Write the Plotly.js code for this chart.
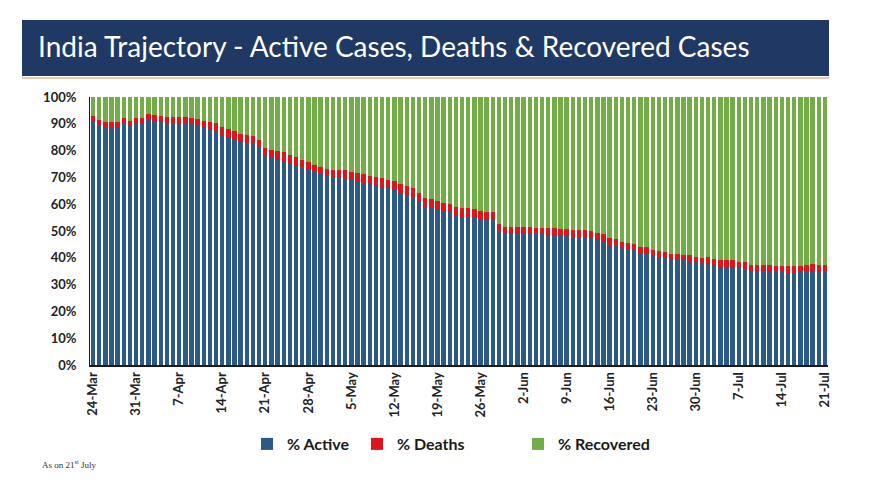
<!DOCTYPE html>
<html>
<head>
<meta charset="utf-8">
<script src="https://cdn.plot.ly/plotly-3.0.1.min.js"></script>
<style>html,body{margin:0;padding:0;background:#fff;}#chart{width:878px;height:489px;}</style>
</head>
<body>
<div id="chart"></div>
<script>
// Month spans for the daily categories (24-Mar .. 21-Jul)
var monthSpans = [["Mar", 24, 31], ["Apr", 1, 30], ["May", 1, 31], ["Jun", 1, 30], ["Jul", 1, 21]];

// Tick labels shown on the x axis (weekly)
var tickLabels = ["24-Mar","31-Mar","7-Apr","14-Apr","21-Apr","28-Apr","5-May","12-May","19-May","26-May",
                  "2-Jun","9-Jun","16-Jun","23-Jun","30-Jun","7-Jul","14-Jul","21-Jul"];

// % Active
var pctActive = [
91.0,89.5,88.7,88.7,88.6,90.2,89.2,90.2,90.3,91.4,
91.0,90.5,90.4,90.2,90.2,90.0,89.8,89.3,88.6,88.0,
87.1,85.8,85.0,84.4,83.3,82.8,82.5,81.0,78.0,77.5,
76.8,76.3,75.5,74.8,73.8,73.2,72.0,71.2,70.5,70.0,
69.6,69.3,68.9,68.2,67.9,67.4,66.9,66.6,65.9,65.5,
64.2,63.5,62.8,61.0,59.0,58.5,58.0,57.4,57.0,55.7,
55.3,55.2,55.0,54.5,54.4,54.2,49.5,48.9,48.8,48.8,
48.8,48.8,48.8,48.7,48.6,48.5,48.3,48.0,47.8,47.8,
47.9,47.6,46.6,46.4,44.8,44.3,43.6,43.3,43.0,41.8,
41.6,40.6,40.4,40.2,39.3,39.2,39.1,38.9,38.3,38.1,
37.9,36.9,36.7,36.7,36.5,36.1,35.9,35.0,34.8,34.8,
34.7,34.6,34.6,34.5,34.5,34.6,35.0,35.1,35.0,34.8];

// % Deaths
var pctDeaths = [
1.9,2.0,2.1,2.1,2.0,1.8,2.0,1.8,1.9,2.1,
2.2,2.3,2.2,2.3,2.3,2.4,2.5,2.5,2.6,2.8,
3.3,2.9,3.0,3.0,3.0,3.0,3.0,3.0,2.8,2.8,
3.0,3.1,2.7,2.8,2.6,2.6,2.8,2.8,2.7,2.8,
3.3,3.5,3.3,3.3,3.3,3.2,3.2,3.2,3.1,3.1,
3.2,3.2,3.2,3.2,3.3,3.3,3.2,2.9,3.0,3.1,
3.2,3.2,3.2,2.8,2.8,2.8,3.0,2.7,2.6,2.6,
2.6,2.6,2.5,2.6,2.6,2.5,2.5,2.6,2.6,2.5,
2.5,2.5,2.5,2.5,2.5,2.6,2.2,2.1,2.1,2.4,
2.4,2.2,2.1,2.1,2.1,2.1,2.1,2.1,2.0,2.0,
2.4,2.5,2.5,2.5,2.5,2.4,2.4,2.5,2.5,2.5,
2.5,2.4,2.3,2.4,2.4,2.4,2.5,2.5,2.5,2.5];

// % Recovered
var pctRecovered = [
7.1,8.5,9.2,9.2,9.4,8.0,8.8,8.0,7.8,6.5,
6.8,7.2,7.4,7.5,7.5,7.6,7.7,8.2,8.8,9.2,
9.6,11.3,12.0,12.6,13.7,14.2,14.5,16.0,19.2,19.7,
20.2,20.6,21.8,22.4,23.6,24.2,25.2,26.0,26.8,27.2,
27.1,27.2,27.8,28.5,28.8,29.4,29.9,30.2,31.0,31.4,
32.6,33.3,34.0,35.8,37.7,38.2,38.8,39.7,40.0,41.2,
41.5,41.6,41.8,42.7,42.8,43.0,47.5,48.4,48.6,48.6,
48.6,48.6,48.7,48.7,48.8,49.0,49.2,49.4,49.6,49.7,
49.6,49.9,50.9,51.1,52.7,53.1,54.2,54.6,54.9,55.8,
56.0,57.2,57.5,57.7,58.6,58.7,58.8,59.0,59.7,59.9,
59.7,60.6,60.8,60.8,61.0,61.5,61.7,62.5,62.7,62.7,
62.8,63.0,63.1,63.1,63.1,63.0,62.5,62.4,62.5,62.7];

var days = [];
monthSpans.forEach(function (m) {
  for (var d = m[1]; d <= m[2]; d++) days.push(d + "-" + m[0]);
});

var FONT = "Lato, 'Open Sans', sans-serif";

var traces = [
  {type: "bar", name: "% Active", x: days, y: pctActive, marker: {color: "#2B5A86"}, legend: "legend"},
  {type: "bar", name: "% Deaths", x: days, y: pctDeaths, marker: {color: "#E0141B"}, legend: "legend2"},
  {type: "bar", name: "% Recovered", x: days, y: pctRecovered, marker: {color: "#72AD47"}, legend: "legend3"}
];

function px2x(p) { return (p - 90) / 738; }
function px2y(p) { return (365 - p) / 268; }

var legendFont = {family: FONT, size: 16, color: "#1a1a1a", weight: "bold"};
function legendAt(p) {
  return {orientation: "h", x: px2x(p), xanchor: "left", y: px2y(444), yanchor: "middle",
          font: legendFont, itemwidth: 30, bgcolor: "rgba(0,0,0,0)", borderwidth: 0};
}

var layout = {
  width: 878, height: 489,
  margin: {l: 90, r: 50, t: 97, b: 124},
  paper_bgcolor: "#ffffff", plot_bgcolor: "#ffffff",
  barmode: "stack", bargap: 0.28,
  showlegend: true,
  title: {
    text: "India Trajectory - Active Cases, Deaths & Recovered Cases",
    x: 38 / 878, xanchor: "left", xref: "container",
    y: 1 - 47 / 489, yanchor: "middle", yref: "container",
    font: {family: FONT, size: 28, color: "#ffffff"}
  },
  xaxis: {
    type: "category",
    tickmode: "array", tickvals: tickLabels, ticktext: tickLabels,
    tickangle: -90, ticks: "",
    showline: true, linecolor: "#1a1a1a", linewidth: 2,
    showgrid: false, zeroline: false,
    tickfont: {family: FONT, size: 13, color: "#222222", weight: "bold"},
    fixedrange: true
  },
  yaxis: {
    range: [0, 100], dtick: 10, ticksuffix: "%",
    showgrid: false, zeroline: false,
    showline: true, linecolor: "#1a1a1a", linewidth: 1,
    ticks: "", ticklabelstandoff: 10,
    tickfont: {family: FONT, size: 13, color: "#222222", weight: "bold"},
    fixedrange: true
  },
  legend: legendAt(247),
  legend2: legendAt(357),
  legend3: legendAt(518),
  shapes: [
    {type: "rect", xref: "paper", yref: "paper",
     x0: px2x(22), x1: px2x(829), y0: px2y(76), y1: px2y(20),
     fillcolor: "#1F3864", line: {width: 0}, layer: "below"},
    {type: "line", xref: "paper", yref: "paper",
     x0: px2x(22), x1: px2x(829), y0: px2y(78), y1: px2y(78),
     line: {color: "#E2B58A", width: 1.5}}
  ],
  annotations: [
    {text: "As on 21<sup>st</sup> July", xref: "paper", yref: "paper",
     x: px2x(40), xanchor: "left", y: px2y(464), yanchor: "middle",
     showarrow: false, font: {family: "'Liberation Serif', serif", size: 9, color: "#333333"}}
  ]
};

Plotly.newPlot("chart", traces, layout, {displayModeBar: false, staticPlot: true});
</script>
</body>
</html>
